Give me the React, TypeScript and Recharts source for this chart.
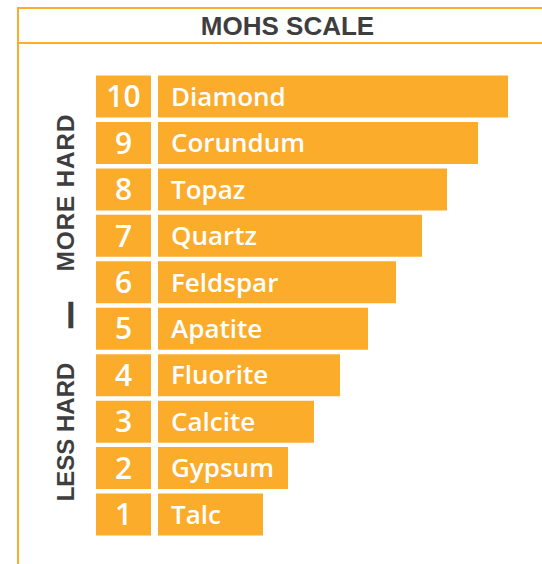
import React from 'react';
import { BarChart, Bar, XAxis, YAxis, LabelList } from 'recharts';

// Mohs hardness, top (hardest) to bottom
const hardness = [10, 9, 8, 7, 6, 5, 4, 3, 2, 1];
const minerals = ['Diamond', 'Corundum', 'Topaz', 'Quartz', 'Feldspar', 'Apatite', 'Fluorite', 'Calcite', 'Gypsum', 'Talc'];
// bar lengths
const barLengths = [350, 320, 289, 264, 238, 210, 182, 156, 130, 105];

const ORANGE = '#FBAC2B';
const DARK = '#3e3e3e';
const BOX = 55;
const GAP = 7;

const data = minerals.map((name, i) => ({
  name,
  level: String(hardness[i]),
  box: BOX,
  gap: GAP,
  length: barLengths[i],
}));

const App: React.FC = () => {
  return (
    <div style={{ position: 'fixed', left: 0, top: 0, width: 542, height: 564, overflow: 'hidden', background: '#fff' }}>
      {/* frame */}
      <div style={{ position: 'absolute', left: 17, top: 7, width: 600, height: 600, borderLeft: `2px solid ${ORANGE}`, borderTop: `2px solid ${ORANGE}` }} />
      <div style={{ position: 'absolute', left: 17, top: 42, width: 600, height: 2, background: ORANGE }} />

      <svg width={542} height={564} style={{ position: 'absolute', left: 0, top: 0 }}>
        <text x={287.5} y={35} textAnchor="middle" fontFamily="'Liberation Sans', Arial, sans-serif" fontWeight={700} fontSize={26} fill={DARK}>
          MOHS SCALE
        </text>
        <text x={74.3} y={193} transform="rotate(-90, 74.3, 193)" textAnchor="middle" textLength={157} lengthAdjust="spacing" fontFamily="'Liberation Sans', Arial, sans-serif" fontWeight={700} fontSize={24.5} fill={DARK}>
          MORE HARD
        </text>
        <text x={77} y={315} transform="rotate(-90, 77, 315)" textAnchor="middle" fontFamily="'Liberation Sans', Arial, sans-serif" fontWeight={700} fontSize={24} fill={DARK} stroke={DARK} strokeWidth={2.5}>
          —
        </text>
        <text x={74.3} y={432} transform="rotate(-90, 74.3, 432)" textAnchor="middle" fontFamily="'Liberation Sans', Arial, sans-serif" fontWeight={700} fontSize={24} fill={DARK}>
          LESS HARD
        </text>
      </svg>

      <div style={{ position: 'absolute', left: 0, top: 0 }}>
        <BarChart
          width={542}
          height={564}
          data={data}
          layout="vertical"
          margin={{ top: 73.5, right: 0, bottom: 26, left: 96 }}
          barSize={42}
        >
          <XAxis type="number" hide domain={[0, 446]} />
          <YAxis type="category" dataKey="name" hide />
          <Bar dataKey="box" stackId="a" fill={ORANGE} isAnimationActive={false}>
            <LabelList dataKey="level" position="center" fill="#fff" fontSize={30} fontWeight={600} fontFamily="'Open Sans', sans-serif" />
          </Bar>
          <Bar dataKey="gap" stackId="a" fill="transparent" isAnimationActive={false} />
          <Bar dataKey="length" stackId="a" fill={ORANGE} isAnimationActive={false}>
            <LabelList dataKey="name" position="insideLeft" offset={13} fill="#fff" fontSize={26} fontWeight={600} fontFamily="'Open Sans', sans-serif" />
          </Bar>
        </BarChart>
      </div>
    </div>
  );
};

export default App;
